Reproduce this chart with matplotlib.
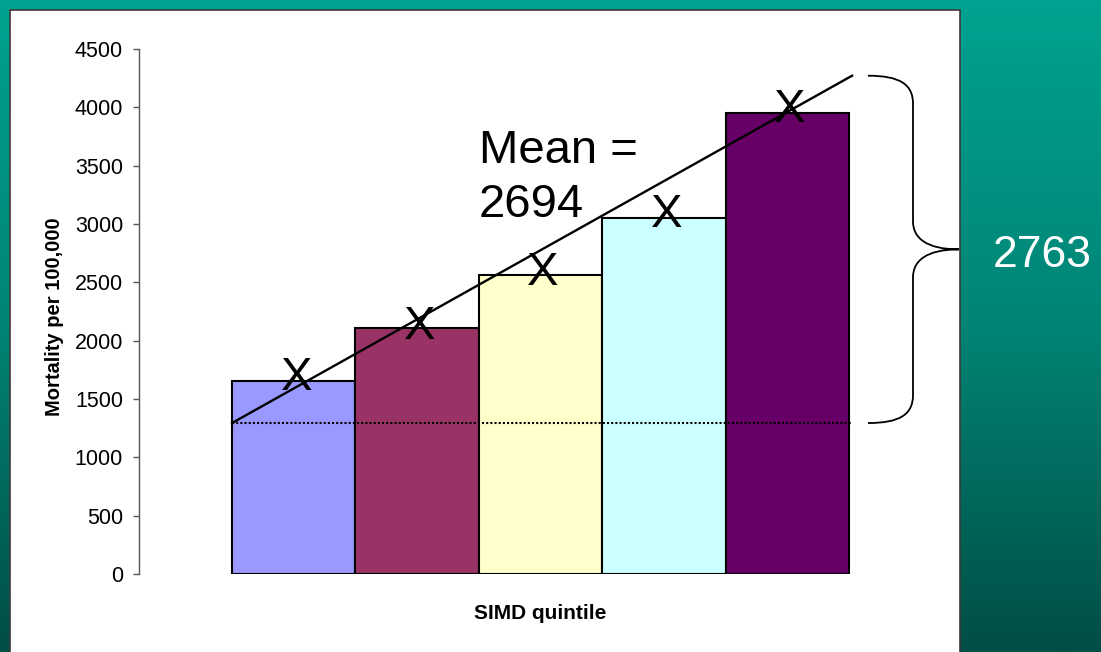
import numpy as np
import matplotlib
matplotlib.use("Agg")
import matplotlib.pyplot as plt
from matplotlib.patches import Rectangle, PathPatch
from matplotlib.path import Path
from matplotlib.colors import LinearSegmentedColormap

plt.rcParams["font.family"] = ["Liberation Sans", "DejaVu Sans"]

# data
quintiles = ["1", "2", "3", "4", "5"]
mortality = [1657, 2109, 2563, 3051, 3954]
bar_colors = ["#9999FF", "#993366", "#FFFFCC", "#CCFFFF", "#660066"]
x_marks = [1723, 2160, 2623, 3120, 4020]
trend_x = [-0.5, 4.525]
trend_y = [1294, 4271]
y_ticks = [0, 500, 1000, 1500, 2000, 2500, 3000, 3500, 4000, 4500]
mean_label = "Mean =\n2694"
range_label = "2763"

W, H = 1101, 652
fig = plt.figure(figsize=(W / 100, H / 100), dpi=100)

# teal gradient backdrop
bg = fig.add_axes([0, 0, 1, 1], zorder=-10)
grad = np.linspace(0, 1, 256).reshape(-1, 1)
cmap = LinearSegmentedColormap.from_list("slide", ["#00A291", "#008474", "#004E45"])
bg.imshow(grad, aspect="auto", cmap=cmap, extent=[0, 1, 0, 1], origin="upper")
bg.axis("off")

# white chart panel
panel = Rectangle((10 / W, -0.05), 950 / W, 642 / H + 0.05, transform=fig.transFigure,
                  facecolor="white", edgecolor="#3a3a3a", linewidth=1.2, zorder=-5)
fig.add_artist(panel)

ax = fig.add_axes([139 / W, 78 / H, 803 / W, 525 / H])
ax.patch.set_alpha(0)

x = np.arange(len(quintiles))
ax.bar(x, mortality, width=1.0, color=bar_colors, edgecolor="black", linewidth=1.5, zorder=2)

# trend line and baseline
ax.plot(trend_x, trend_y, color="black", linewidth=1.7, zorder=3, clip_on=False)
ax.plot(trend_x, [trend_y[0], trend_y[0]], color="black", linewidth=1.5,
        linestyle=(0, (1, 1)), zorder=3, clip_on=False)

for xi, v in zip(x, x_marks):
    ax.annotate("X", (xi + 0.02, v), xytext=(0, -12.2), textcoords="offset points",
                ha="center", va="baseline", fontsize=34, zorder=4)

ax.text(1.50, 3814, mean_label, fontsize=34, ha="left", va="top", linespacing=1.28, zorder=4)

# curly brace spanning the trend range
y_top, y_bot = trend_y[1], trend_y[0]
y_mid = (y_top + y_bot) / 2
x0, xm, xt = 4.654, 5.019, 5.391
r = 240
verts = [
    (x0, y_top), (x0 + 0.7 * (xm - x0), y_top), (xm, y_top - 0.3 * r), (xm, y_top - r),
    (xm, y_mid + r),
    (xm, y_mid + 0.4 * r), (xm + 0.3 * (xt - xm), y_mid), (xt, y_mid),
    (xm + 0.3 * (xt - xm), y_mid), (xm, y_mid - 0.4 * r), (xm, y_mid - r),
    (xm, y_bot + r),
    (xm, y_bot + 0.3 * r), (x0 + 0.7 * (xm - x0), y_bot), (x0, y_bot),
]
codes = [Path.MOVETO, Path.CURVE4, Path.CURVE4, Path.CURVE4,
         Path.LINETO,
         Path.CURVE4, Path.CURVE4, Path.CURVE4,
         Path.CURVE4, Path.CURVE4, Path.CURVE4,
         Path.LINETO,
         Path.CURVE4, Path.CURVE4, Path.CURVE4]
brace = PathPatch(Path(verts, codes), facecolor="none", edgecolor="black",
                  linewidth=1.3, clip_on=False, zorder=3)
ax.add_patch(brace)

ax.set_xlim(-1.254, 5.254)
ax.set_ylim(0, 4500)
ax.set_xticks([])
ax.set_yticks(y_ticks)
for side in ["top", "right", "bottom"]:
    ax.spines[side].set_visible(False)
ax.spines["left"].set_color("#555555")
ax.spines["left"].set_linewidth(1)
ax.tick_params(axis="y", direction="out", length=4.5, width=1, color="#555555",
               labelsize=15.5, pad=7)

ax.set_ylabel("Mortality per 100,000", fontsize=14.5, fontweight="bold")
ax.yaxis.set_label_coords(-0.093, 0.49)
ax.set_xlabel("SIMD quintile", fontsize=15, fontweight="bold")
ax.xaxis.set_label_coords(0.5, -0.057)

fig.text(993 / W, 1 - 267 / H, range_label, color="white", fontsize=32,
         ha="left", va="baseline")

fig.savefig("out.png", dpi=100)
